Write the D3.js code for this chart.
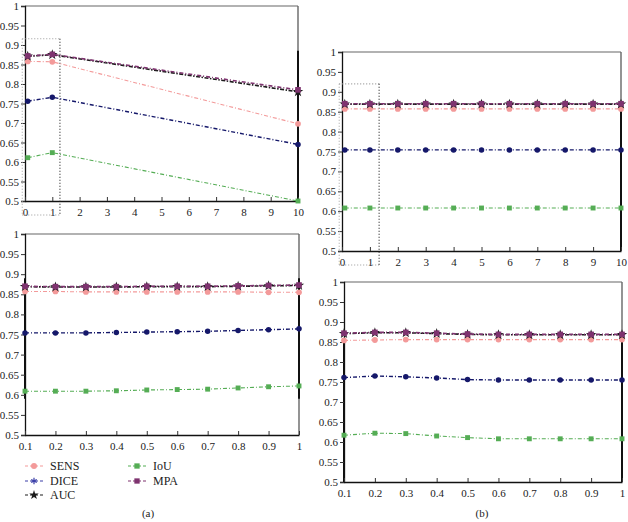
<!DOCTYPE html>
<html>
<head>
<meta charset="utf-8">
<script src="https://cdn.jsdelivr.net/npm/d3@7"></script>
<style>
  html, body { margin: 0; padding: 0; background: #fff; }
  svg { display: block; }
  text { font-family: "Liberation Serif", "DejaVu Serif", serif; fill: #222; }
</style>
</head>
<body>
<svg id="chart" width="628" height="522"></svg>
<script>
// ---------- DATA ----------
const seriesNames = ["SENS", "DICE", "AUC", "IoU", "MPA"];

// Panel (a) top: x = 0.1, 1, 10
const xA1 = [0.1, 1, 10];
const A1_SENS = [0.858, 0.857, 0.698];
const A1_DICE = [0.756, 0.766, 0.645];
const A1_AUC  = [0.871, 0.875, 0.780];
const A1_IoU  = [0.611, 0.624, 0.500];
const A1_MPA  = [0.872, 0.876, 0.785];

// Panel (a) bottom: x = 0.1 ... 1
const xA2 = [0.1, 0.2, 0.3, 0.4, 0.5, 0.6, 0.7, 0.8, 0.9, 1];
const A2_SENS = [0.857, 0.857, 0.856, 0.856, 0.856, 0.856, 0.856, 0.856, 0.855, 0.855];
const A2_DICE = [0.754, 0.754, 0.754, 0.755, 0.756, 0.757, 0.758, 0.760, 0.762, 0.764];
const A2_AUC  = [0.869, 0.868, 0.868, 0.868, 0.869, 0.869, 0.869, 0.870, 0.871, 0.872];
const A2_IoU  = [0.609, 0.609, 0.609, 0.610, 0.612, 0.613, 0.614, 0.617, 0.620, 0.622];
const A2_MPA  = [0.870, 0.869, 0.869, 0.869, 0.870, 0.870, 0.870, 0.871, 0.872, 0.873];

// Panel (b) top: x = 0.1, 1, 2, ..., 10
const xB1 = [0.1, 1, 2, 3, 4, 5, 6, 7, 8, 9, 10];
const B1_SENS = [0.857, 0.857, 0.857, 0.857, 0.857, 0.857, 0.857, 0.857, 0.857, 0.857, 0.857];
const B1_DICE = [0.754, 0.754, 0.754, 0.754, 0.754, 0.754, 0.754, 0.754, 0.754, 0.754, 0.754];
const B1_AUC  = [0.869, 0.869, 0.869, 0.869, 0.869, 0.869, 0.869, 0.869, 0.869, 0.869, 0.869];
const B1_IoU  = [0.608, 0.608, 0.608, 0.608, 0.608, 0.608, 0.608, 0.608, 0.608, 0.608, 0.608];
const B1_MPA  = [0.870, 0.870, 0.870, 0.870, 0.870, 0.870, 0.870, 0.870, 0.870, 0.870, 0.870];

// Panel (b) bottom: x = 0.1 ... 1
const xB2 = [0.1, 0.2, 0.3, 0.4, 0.5, 0.6, 0.7, 0.8, 0.9, 1];
const B2_SENS = [0.854, 0.855, 0.856, 0.856, 0.856, 0.856, 0.856, 0.856, 0.856, 0.856];
const B2_DICE = [0.761, 0.765, 0.763, 0.760, 0.756, 0.755, 0.755, 0.755, 0.755, 0.755];
const B2_AUC  = [0.871, 0.873, 0.873, 0.871, 0.869, 0.868, 0.868, 0.868, 0.868, 0.868];
const B2_IoU  = [0.617, 0.622, 0.621, 0.615, 0.611, 0.608, 0.608, 0.608, 0.608, 0.608];
const B2_MPA  = [0.872, 0.874, 0.874, 0.872, 0.870, 0.869, 0.869, 0.869, 0.869, 0.869];

const yTicks = [0.5, 0.55, 0.6, 0.65, 0.7, 0.75, 0.8, 0.85, 0.9, 0.95, 1];
const xTicksWide = [0, 1, 2, 3, 4, 5, 6, 7, 8, 9, 10];
const xTicksNarrow = [0.1, 0.2, 0.3, 0.4, 0.5, 0.6, 0.7, 0.8, 0.9, 1];
const panelLabels = ["(a)", "(b)"];

// ---------- STYLES ----------
const styles = {
  SENS: { color: "#f39a9a", symbol: d3.symbolCircle, size: 26, width: 1.1, dash: "4,2,1,2", legendSymbol: d3.symbolCircle },
  DICE: { color: "#15186a", symbol: d3.symbolCircle, size: 24, width: 1.4, dash: "4,2,1,2", legendSymbol: d3.symbolAsterisk, legendColor: "#3b3fa8" },
  AUC:  { color: "#1c1c1c", symbol: d3.symbolStar, size: 34, width: 1.6, dash: "4,1.5,1.5,1.5", legendSymbol: d3.symbolStar },
  IoU:  { color: "#55ad55", symbol: d3.symbolSquare, size: 24, width: 1.1, dash: "4,2,1,2", legendSymbol: d3.symbolSquare },
  MPA:  { color: "#7e336f", symbol: d3.symbolSquare, size: 32, width: 1.6, dash: "4,2,1,2", legendSymbol: d3.symbolSquare }
};
const drawOrder = ["IoU", "DICE", "SENS", "AUC", "MPA"];

const svg = d3.select("#chart");
const fmt = v => String(+v.toFixed(2));

function drawPanel(p) {
  const x = d3.scaleLinear().domain(p.xDomain).range([p.left, p.right]);
  const y = d3.scaleLinear().domain([0.5, 1]).range([p.bottom, p.top]);
  const g = svg.append("g");

  // frame top / right (gray)
  g.append("line").attr("x1", p.left).attr("x2", p.right).attr("y1", p.top).attr("y2", p.top)
    .attr("stroke", "#666").attr("stroke-width", 1.2);
  g.append("line").attr("x1", p.right).attr("x2", p.right).attr("y1", p.top).attr("y2", p.bottom)
    .attr("stroke", "#666").attr("stroke-width", 1.4);
  // darker render segments on borders
  (p.thick || []).forEach(t => {
    const xx = t.side === "left" ? p.left : p.right;
    g.append("line").attr("x1", xx).attr("x2", xx).attr("y1", y(t.from)).attr("y2", y(t.to))
      .attr("stroke", "#111").attr("stroke-width", 2);
  });

  // axes
  const yAxis = d3.axisLeft(y).tickValues(yTicks).tickFormat(fmt).tickSize(4).tickPadding(2);
  const ya = g.append("g").attr("transform", `translate(${p.left},0)`).call(yAxis);
  ya.select(".domain").attr("stroke", "#111").attr("stroke-width", 1.3);
  ya.selectAll(".tick line").attr("stroke", "#333");
  ya.selectAll("text").style("font-family", '"Liberation Serif", serif').style("font-size", "11px").attr("fill", "#222");

  const xAxis = d3.axisBottom(x).tickValues(p.xTicks).tickFormat(fmt).tickSizeInner(-4).tickSizeOuter(0).tickPadding(7);
  const xa = g.append("g").attr("transform", `translate(0,${p.bottom})`).call(xAxis);
  xa.select(".domain").attr("stroke", "#111").attr("stroke-width", 1.3);
  xa.selectAll(".tick line").attr("stroke", "#333");
  xa.selectAll("text").style("font-family", '"Liberation Serif", serif').style("font-size", "11px").attr("fill", "#222");

  // zoom indicator rectangle
  if (p.zoomBox) {
    const zb = p.zoomBox;
    const x0 = x(zb.x0), x1 = x(zb.x1), y0 = y(zb.yTop), y1 = p.bottom + zb.below;
    const dotted = (a, b, c, d, col) => g.append("line").attr("x1", a).attr("y1", b).attr("x2", c).attr("y2", d)
      .attr("stroke", col).attr("stroke-width", 1.1).attr("stroke-dasharray", "1,2");
    dotted(x0, y0, x1, y0, "#999");
    dotted(x0, y0, x0, y1, "#aaa");
    dotted(x0, y1, x1, y1, "#999");
    dotted(x1, y0, x1, y1, "#222");
  }

  // series
  const line = d3.line().x(d => x(d[0])).y(d => y(d[1]));
  drawOrder.forEach(name => {
    const s = styles[name];
    const pts = p.xs.map((xv, i) => [xv, p.series[name][i]]);
    g.append("path").datum(pts).attr("d", line).attr("fill", "none")
      .attr("stroke", s.color).attr("stroke-width", s.width).attr("stroke-dasharray", s.dash);
    g.selectAll(null).data(pts).enter().append("path")
      .attr("d", d3.symbol().type(s.symbol).size(s.size))
      .attr("transform", d => `translate(${x(d[0])},${y(d[1])})`)
      .attr("fill", s.color);
  });
}

const panels = [
  { left: 25, right: 298, top: 6, bottom: 201, xDomain: [0, 10], xTicks: xTicksWide, xs: xA1,
    series: { SENS: A1_SENS, DICE: A1_DICE, AUC: A1_AUC, IoU: A1_IoU, MPA: A1_MPA },
    zoomBox: { x0: -0.1, x1: 1.28, yTop: 0.916, below: 14 },
    thick: [{ side: "right", from: 0.5, to: 0.885 }] },
  { left: 25, right: 299, top: 234, bottom: 435, xDomain: [0.1, 1], xTicks: xTicksNarrow, xs: xA2,
    series: { SENS: A2_SENS, DICE: A2_DICE, AUC: A2_AUC, IoU: A2_IoU, MPA: A2_MPA },
    thick: [{ side: "left", from: 0.59, to: 0.89 }, { side: "right", from: 0.59, to: 0.89 }] },
  { left: 342, right: 621, top: 52, bottom: 251, xDomain: [0, 10], xTicks: xTicksWide, xs: xB1,
    series: { SENS: B1_SENS, DICE: B1_DICE, AUC: B1_AUC, IoU: B1_IoU, MPA: B1_MPA },
    zoomBox: { x0: -0.1, x1: 1.33, yTop: 0.92, below: 14 },
    thick: [{ side: "right", from: 0.5, to: 0.865 }] },
  { left: 344, right: 622, top: 282, bottom: 482, xDomain: [0.1, 1], xTicks: xTicksNarrow, xs: xB2,
    series: { SENS: B2_SENS, DICE: B2_DICE, AUC: B2_AUC, IoU: B2_IoU, MPA: B2_MPA },
    thick: [{ side: "left", from: 0.5, to: 0.86 }, { side: "right", from: 0.5, to: 0.86 }] }
];
panels.forEach(drawPanel);

// ---------- LEGEND ----------
const legendPos = {
  SENS: [25, 466], DICE: [25, 481], AUC: [25, 495],
  IoU: [128, 466], MPA: [128, 481]
};
const lg = svg.append("g");
seriesNames.forEach(name => {
  const s = styles[name];
  const [lx, ly] = legendPos[name];
  const col = s.legendColor || s.color;
  lg.append("line").attr("x1", lx).attr("x2", lx + 18).attr("y1", ly).attr("y2", ly)
    .attr("stroke", col).attr("stroke-width", 1.1).attr("stroke-dasharray", "3,2");
  lg.append("path").attr("d", d3.symbol().type(s.legendSymbol).size(28)())
    .attr("transform", `translate(${lx + 9},${ly})`)
    .attr("fill", col).attr("stroke", s.legendSymbol === d3.symbolAsterisk ? col : "none").attr("stroke-width", 1.2);
  lg.append("text").attr("x", lx + 25).attr("y", ly).attr("dy", "0.35em")
    .style("font-size", "12px").text(name);
});

// panel captions
svg.append("text").attr("x", 148).attr("y", 513).attr("text-anchor", "middle").attr("dy", "0.35em")
  .style("font-size", "11px").text(panelLabels[0]);
svg.append("text").attr("x", 482).attr("y", 513).attr("text-anchor", "middle").attr("dy", "0.35em")
  .style("font-size", "11px").text(panelLabels[1]);
</script>
</body>
</html>
